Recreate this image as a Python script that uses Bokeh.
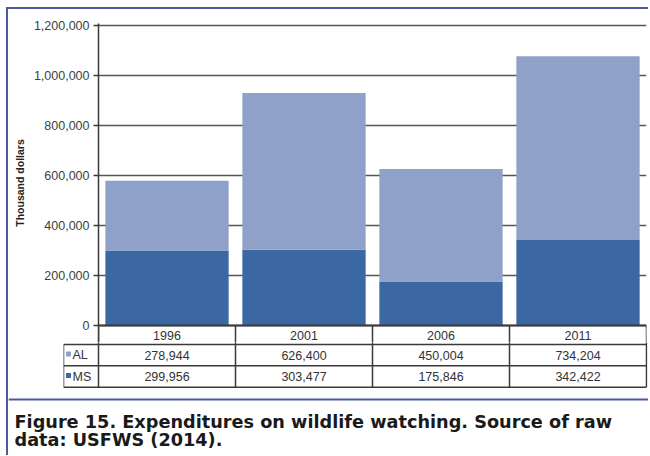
from bokeh.plotting import figure
from bokeh.models import (Range1d, FactorRange, SingleIntervalTicker,
                          NumeralTickFormatter, ColumnDataSource, Span)
from bokeh.core.properties import value
from bokeh.embed import file_html
from bokeh.resources import INLINE

# ---------------- data ----------------
years = ["1996", "2001", "2006", "2011"]
series = ["AL", "MS"]
al = [278944, 626400, 450004, 734204]
ms = [299956, 303477, 175846, 342422]
y_tick_interval = 200000
axis_title = "Thousand dollars"
caption_lines = ["Figure 15. Expenditures on wildlife watching. Source of raw",
                 "data: USFWS (2014)."]

# ---------------- style ----------------
AL_COLOR = "#8fa0c9"
MS_COLOR = "#3b67a2"
FRAME_BLUE = "#4a5a9e"
LINE = "#3a3a3a"
TXT = "#333333"
FONT = "Liberation Sans"
CAP_FONT = "DejaVu Sans"
TBL_FS = "12.5px"

COL_PX = 137            # pixel width of one category column
LABEL_COL_PX = 35       # pixel width of the legend label column
label_edge = -LABEL_COL_PX / COL_PX
PX_PER_UNIT = 50 / 200000   # vertical scale of the chart
n = len(years)

border = {"border-left": f"2px solid {FRAME_BLUE}", "margin-left": "6px"}

# ---------------- chart (+ year row of the table) ----------------
src = ColumnDataSource(dict(year=years, AL=al, MS=ms))

p1 = figure(x_range=FactorRange(*years),
            y_range=Range1d(-17 / PX_PER_UNIT, 302 / PX_PER_UNIT),
            frame_width=COL_PX * n, frame_height=319,
            min_border_left=90, min_border_right=2, min_border_top=14,
            min_border_bottom=0, output_backend="svg", toolbar_location=None,
            styles=dict(border, **{"border-top": f"2px solid {FRAME_BLUE}",
                                   "margin-top": "7px"}))
p1.vbar_stack(["MS", "AL"], x="year", width=0.9, source=src,
              fill_color=[MS_COLOR, AL_COLOR], line_color=None)

p1.xaxis.visible = False
p1.xgrid.visible = False
p1.outline_line_color = None

ya = p1.yaxis[0]
ya.ticker = SingleIntervalTicker(interval=y_tick_interval)
ya.formatter = NumeralTickFormatter(format="0,0")
ya.axis_line_color = LINE
ya.axis_line_width = 1.5
ya.major_tick_line_color = LINE
ya.major_tick_line_width = 1.5
ya.major_tick_out = 5
ya.major_tick_in = 0
ya.minor_tick_line_color = None
ya.major_label_text_font = FONT
ya.major_label_text_font_size = "12.5px"
ya.major_label_text_color = "#404040"
ya.major_label_standoff = 4
ya.axis_label = axis_title
ya.axis_label_text_font = FONT
ya.axis_label_text_font_style = "bold"
ya.axis_label_text_font_size = "10.5px"
ya.axis_label_text_color = "#222222"
ya.axis_label_standoff = 5

p1.ygrid.grid_line_color = "#555555"
p1.ygrid.grid_line_width = 1.5

# year row: column borders and year labels
row_bottom = -19 / PX_PER_UNIT
vx = list(range(n + 1))
p1.segment(x0=vx, y0=[0] * (n + 1), x1=vx, y1=[-17 / PX_PER_UNIT - 1e5] * (n + 1),
           line_color=LINE, line_width=1.5)
p1.segment(x0=[0], y0=[0], x1=[n], y1=[0], line_color=LINE, line_width=2)
p1.text(x=years, y=[row_bottom / 2] * n, text=years, text_align="center",
        text_baseline="middle", text_font=value(FONT), text_font_size=TBL_FS,
        text_color=TXT)

# ---------------- value rows of the table ----------------
fmt = lambda v: f"{v:,}"
p2 = figure(x_range=Range1d(label_edge, n + 1 / COL_PX), y_range=Range1d(-0.06, 2.09),
            frame_width=LABEL_COL_PX + COL_PX * n + 1, frame_height=46,
            min_border_left=55, min_border_right=1, min_border_top=0,
            min_border_bottom=0, output_backend="svg", toolbar_location=None,
            styles=border)
p2.axis.visible = False
p2.grid.visible = False
p2.outline_line_color = None

vx2 = list(range(n + 1)) + [label_edge]
p2.segment(x0=vx2, y0=[0] * (n + 2), x1=vx2, y1=[2.2] * (n + 1) + [2],
           line_color=LINE, line_width=1.5)
p2.segment(x0=[label_edge] * 3, y0=[0, 1, 2], x1=[n] * 3, y1=[0, 1, 2],
           line_color=LINE, line_width=1.5)

centers = [i + 0.5 for i in range(n)]
p2.text(x=centers, y=[1.5] * n, text=[fmt(v) for v in al], text_align="center",
        text_baseline="middle", text_font=value(FONT), text_font_size=TBL_FS,
        text_color=TXT)
p2.text(x=centers, y=[0.5] * n, text=[fmt(v) for v in ms], text_align="center",
        text_baseline="middle", text_font=value(FONT), text_font_size=TBL_FS,
        text_color=TXT)
p2.scatter(x=[label_edge + 5 / COL_PX] * 2, y=[1.55, 0.55], marker="square", size=5,
           fill_color=[AL_COLOR, MS_COLOR], line_color=None)
p2.text(x=[label_edge + 9 / COL_PX] * 2, y=[1.5, 0.5], text=series, text_align="left",
        text_baseline="middle", text_font=value(FONT), text_font_size=TBL_FS,
        text_color=TXT)

# ---------------- caption ----------------
CAP_W, CAP_H = 640, 67
p3 = figure(x_range=Range1d(0, CAP_W), y_range=Range1d(0, CAP_H),
            frame_width=CAP_W, frame_height=CAP_H, min_border=0,
            output_backend="svg", toolbar_location=None, styles=border)
p3.axis.visible = False
p3.grid.visible = False
p3.outline_line_color = None
p3.add_layout(Span(location=CAP_H - 11, dimension="width", line_color=FRAME_BLUE,
                   line_width=2))
p3.text(x=[6, 6], y=[CAP_H - 33, CAP_H - 51], text=caption_lines,
        text_align="left", text_baseline="alphabetic", text_font=value(CAP_FONT),
        text_font_style="bold", text_font_size="17.7px", text_color="#1a1a1a")

open("out.html", "w").write(file_html([p1, p2, p3], INLINE))
